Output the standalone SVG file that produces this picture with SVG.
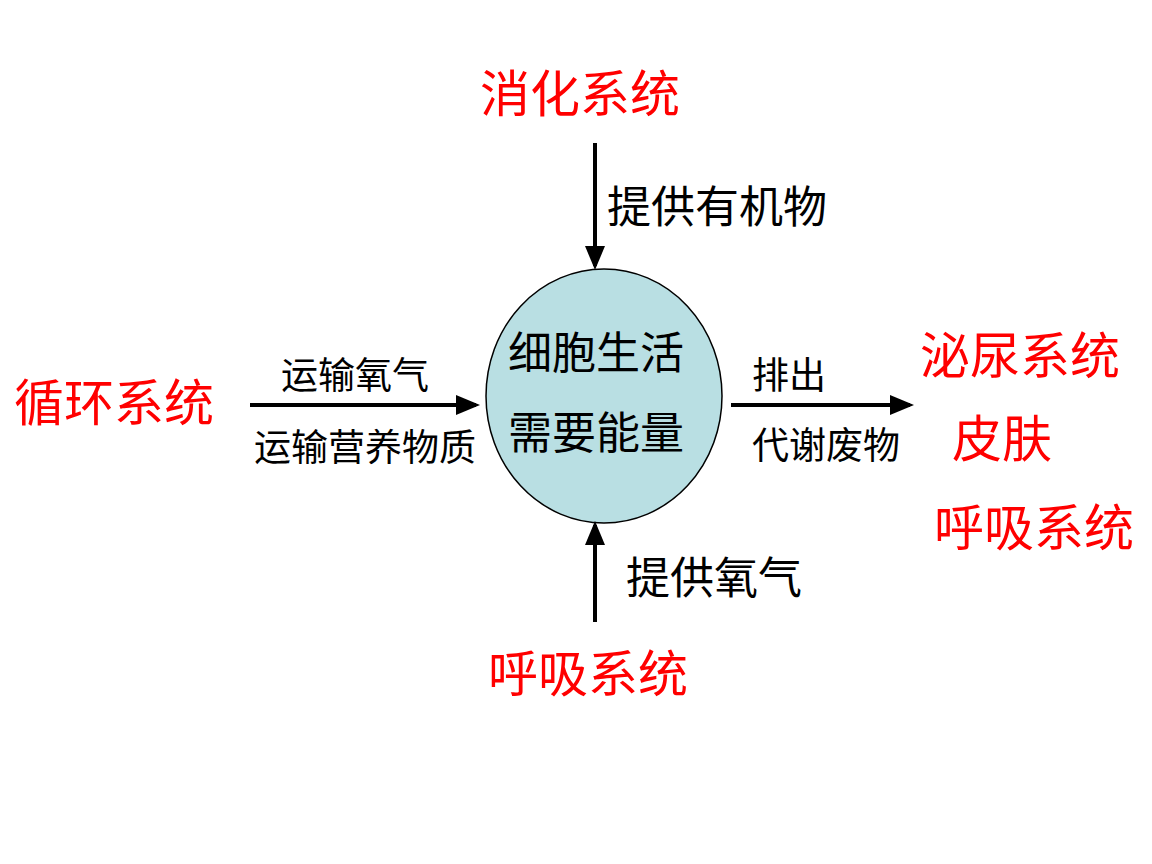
<svg xmlns="http://www.w3.org/2000/svg" width="1152" height="864" viewBox="0 0 1152 864">
<style>
.r{fill:#ff0000;font-family:"Liberation Sans","Noto Sans CJK SC",sans-serif;font-size:50px}
.k{fill:#000;font-family:"Liberation Sans","Noto Sans CJK SC",sans-serif;font-size:44px}
.s{fill:#000;font-family:"Liberation Sans","Noto Sans CJK SC",sans-serif;font-size:37px}
.c{fill:#000;font-family:"Liberation Sans","Noto Sans CJK SC",sans-serif;font-size:44px}
line{stroke:#000;stroke-width:4}
</style>
<defs><marker id="a" markerWidth="6" markerHeight="6" refX="5" refY="3" orient="auto" markerUnits="strokeWidth"><path d="M0,0.5L6,3L0,5.5z" fill="#000"/></marker></defs>
<rect width="1152" height="864" fill="#fff"/>
<g id="cell"><ellipse cx="604" cy="396" rx="118" ry="127" fill="#b9dfe3" stroke="#000" stroke-width="1.5"/>
<text class="c" x="508" y="369">细胞生活</text><text class="c" x="508" y="449">需要能量</text></g>
<g id="connectors">
<line x1="595" y1="143" x2="595" y2="266" marker-end="url(#a)"/>
<line x1="595" y1="622" x2="595" y2="525" marker-end="url(#a)"/>
<line x1="250" y1="405" x2="476" y2="405" marker-end="url(#a)"/>
<line x1="731" y1="405" x2="910" y2="405" marker-end="url(#a)"/>
<text class="k" x="607" y="223">提供有机物</text>
<text class="k" x="626" y="594">提供氧气</text>
<text class="s" x="281" y="389">运输氧气</text>
<text class="s" x="254" y="461">运输营养物质</text>
<text class="s" x="752" y="389">排出</text>
<text class="s" x="752" y="459">代谢废物</text>
</g>
<g id="digest"><text class="r" x="480" y="112">消化系统</text></g>
<g id="circ"><text class="r" x="14" y="421">循环系统</text></g>
<g id="resp"><text class="r" x="488" y="692">呼吸系统</text></g>
<g id="out"><text class="r" x="920" y="374">泌尿系统</text><text class="r" x="952" y="457">皮肤</text><text class="r" x="934" y="546">呼吸系统</text></g>
</svg>
